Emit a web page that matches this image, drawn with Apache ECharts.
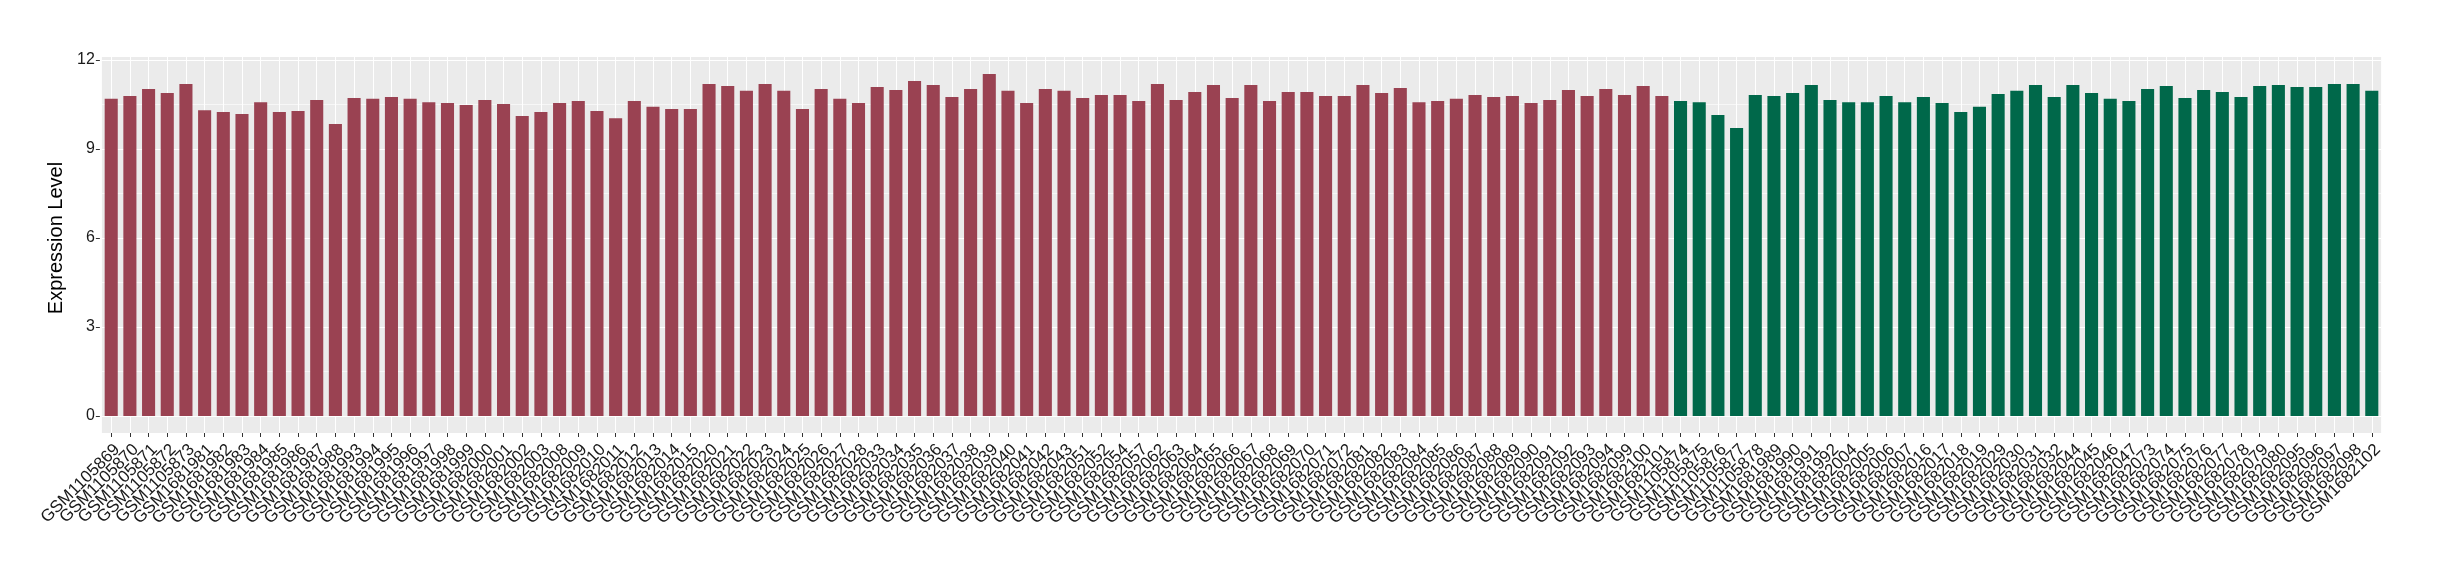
<!DOCTYPE html>
<html>
<head>
<meta charset="utf-8">
<script src="https://cdn.jsdelivr.net/npm/echarts@6/dist/echarts.min.js"></script>
<style>
html,body{margin:0;padding:0;background:#fff;}
#chart{width:2440px;height:580px;}
</style>
</head>
<body>
<div id="chart"></div>
<script>
const tumorSamples = ["GSM1105869","GSM1105870","GSM1105871","GSM1105872","GSM1105873","GSM1681981","GSM1681982","GSM1681983","GSM1681984","GSM1681985","GSM1681986","GSM1681987",
"GSM1681988","GSM1681993","GSM1681994","GSM1681995","GSM1681996","GSM1681997","GSM1681998","GSM1681999","GSM1682000","GSM1682001","GSM1682002","GSM1682003","GSM1682008","GSM1682009","GSM1682010",
"GSM1682011","GSM1682012","GSM1682013","GSM1682014","GSM1682015","GSM1682020","GSM1682021","GSM1682022","GSM1682023","GSM1682024","GSM1682025","GSM1682026","GSM1682027","GSM1682028","GSM1682033",
"GSM1682034","GSM1682035","GSM1682036","GSM1682037","GSM1682038","GSM1682039","GSM1682040","GSM1682041","GSM1682042","GSM1682043","GSM1682051","GSM1682052","GSM1682054","GSM1682057","GSM1682062",
"GSM1682063","GSM1682064","GSM1682065","GSM1682066","GSM1682067","GSM1682068","GSM1682069","GSM1682070","GSM1682071","GSM1682072","GSM1682081","GSM1682082","GSM1682083","GSM1682084","GSM1682085",
"GSM1682086","GSM1682087","GSM1682088","GSM1682089","GSM1682090","GSM1682091","GSM1682092","GSM1682093","GSM1682094","GSM1682099","GSM1682100","GSM1682101"];
const tumorValues = [10.69,10.79,11.02,10.89,11.19,10.31,10.25,10.18,10.58,10.25,10.28,10.65,
9.84,10.72,10.69,10.75,10.69,10.58,10.55,10.48,10.65,10.52,10.11,10.25,10.55,10.62,10.28,
10.04,10.62,10.42,10.35,10.35,11.19,11.12,10.96,11.19,10.96,10.35,11.02,10.69,10.55,11.09,
10.99,11.29,11.16,10.75,11.02,11.53,10.96,10.55,11.02,10.96,10.72,10.82,10.82,10.62,11.19,
10.65,10.92,11.16,10.72,11.16,10.62,10.92,10.92,10.79,10.79,11.16,10.89,11.06,10.58,10.62,
10.69,10.82,10.75,10.79,10.55,10.65,10.99,10.79,11.02,10.82,11.12,10.79];
const normalSamples = ["GSM1105874","GSM1105875","GSM1105876",
"GSM1105877","GSM1105878","GSM1681989","GSM1681990","GSM1681991","GSM1681992","GSM1682004","GSM1682005","GSM1682006","GSM1682007","GSM1682016","GSM1682017","GSM1682018","GSM1682019",
"GSM1682029","GSM1682030","GSM1682031","GSM1682032","GSM1682044","GSM1682045","GSM1682046","GSM1682047","GSM1682073","GSM1682074","GSM1682075","GSM1682076","GSM1682077","GSM1682078","GSM1682079",
"GSM1682080","GSM1682095","GSM1682096","GSM1682097","GSM1682098","GSM1682102"];
const normalValues = [10.62,10.58,10.15,
9.71,10.82,10.79,10.89,11.16,10.65,10.58,10.58,10.79,10.58,10.75,10.55,10.25,10.42,
10.85,10.96,11.16,10.75,11.16,10.89,10.69,10.62,11.02,11.12,10.72,10.99,10.92,10.75,11.12,
11.16,11.09,11.09,11.19,11.19,10.96];
const yTicks = [0, 3, 6, 9, 12];

const tumorColor = '#9A4252';
const normalColor = '#00684A';
const categories = tumorSamples.concat(normalSamples);
const barData = tumorValues.map(v => ({value: v, itemStyle: {color: tumorColor}}))
  .concat(normalValues.map(v => ({value: v, itemStyle: {color: normalColor}})));

const FONT = '"Liberation Sans", Arial, Helvetica, sans-serif';
const chart = echarts.init(document.getElementById('chart'), null, {renderer: 'canvas'});
const gl = 101.87, gr = 2440 - 2381.13;
chart.setOption({
  animation: false,
  backgroundColor: '#ffffff',
  grid: [
    {left: gl, right: gr, top: 60, bottom: 580 - 416, show: false, containLabel: false},
    {left: gl, right: gr, top: 57, bottom: 580 - 433, show: true, backgroundColor: '#EBEBEB', borderWidth: 0, containLabel: false}
  ],
  xAxis: [
    {type: 'category', gridIndex: 0, data: categories, show: false, boundaryGap: true},
    {type: 'category', gridIndex: 1, data: categories, boundaryGap: true,
      axisLine: {show: false},
      axisTick: {show: true, alignWithLabel: true, length: 4, interval: 0, lineStyle: {color: '#333333', width: 1}},
      splitLine: {show: true, alignWithLabel: true, interval: 0, lineStyle: {color: '#ffffff', width: 1}},
      axisLabel: {interval: 0, rotate: 45, align: 'right', verticalAlign: 'top', margin: 8,
        fontSize: 17, fontFamily: FONT, color: '#1A1A1A'}
    }
  ],
  yAxis: [
    {type: 'value', gridIndex: 0, min: yTicks[0], max: yTicks[yTicks.length - 1], interval: 3, offset: 2,
      name: 'Expression Level', nameLocation: 'middle', nameGap: 25,
      nameTextStyle: {fontSize: 20, fontFamily: FONT, color: '#000000'},
      axisLine: {show: false},
      axisTick: {show: true, length: 4, lineStyle: {color: '#333333', width: 1}},
      axisLabel: {fontSize: 16, fontFamily: FONT, color: '#1A1A1A', margin: 5},
      splitLine: {show: true, lineStyle: {color: '#ffffff', width: 1.2}},
      minorTick: {show: false, splitNumber: 2},
      minorSplitLine: {show: true, lineStyle: {color: '#ffffff', width: 0.6}}
    },
    {type: 'value', gridIndex: 1, min: 0, max: 1, show: false, splitLine: {show: false}}
  ],
  series: [{
    type: 'bar', xAxisIndex: 0, yAxisIndex: 0, data: barData, barWidth: '70%'
  }]
});
</script>
</body>
</html>
